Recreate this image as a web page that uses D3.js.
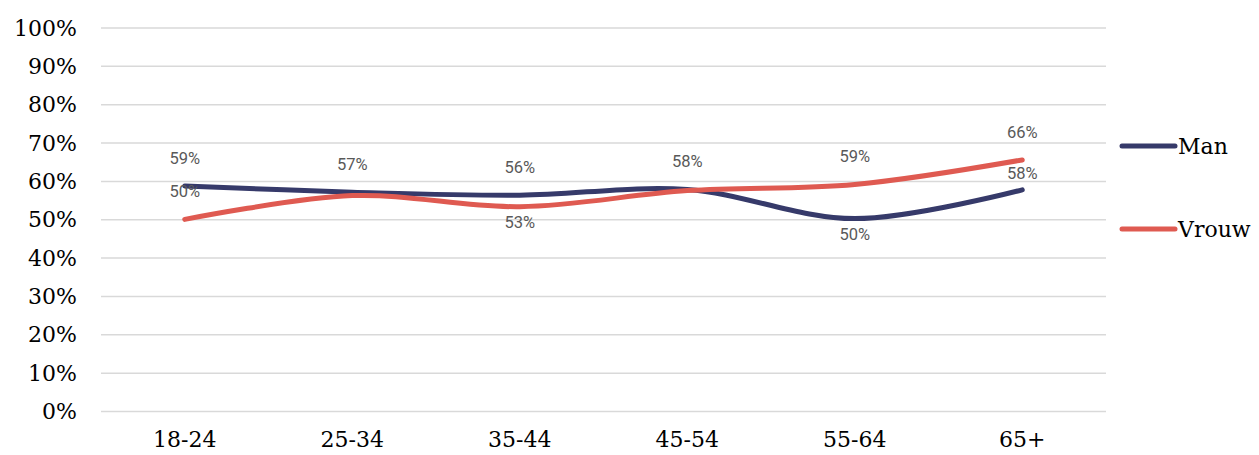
<!DOCTYPE html>
<html>
<head>
<meta charset="utf-8">
<script src="https://cdn.jsdelivr.net/npm/d3@7"></script>
<style>
  body { margin: 0; background: #fff; overflow: hidden; }
  svg { display: block; }
  .axis text { font-family: "DejaVu Serif", serif; font-size: 22px; fill: #000; }
  .lbl { font-family: Roboto, "Noto Sans", sans-serif; font-size: 16.5px; fill: #595959; }
  .legend text { font-family: "DejaVu Serif", serif; font-size: 22px; fill: #000; }
</style>
</head>
<body>
<svg id="chart"></svg>
<script>
var categories = ["18-24", "25-34", "35-44", "45-54", "55-64", "65+"];
var man = [58.8, 57.2, 56.4, 57.9, 50.3, 57.8];
var vrouw = [50.1, 56.3, 53.4, 57.6, 59.2, 65.6];
var yTicks = [0, 10, 20, 30, 40, 50, 60, 70, 80, 90, 100];

// where each data label sits (null = hidden, like in the original)
var manLabels = ["above", "above", "above", "above", "below", "near"];
var vrouwLabels = ["above", null, "below", null, "above", "above"];

var width = 1259,
    height = 455,
    margin = {top: 28, bottom: 43.5, left: 101, right: 153};

var svg = d3.select("#chart")
    .attr("width", width)
    .attr("height", height);

var innerWidth = width - margin.left - margin.right;
var innerHeight = height - margin.top - margin.bottom;

var g = svg.append("g")
    .attr("transform", "translate(" + margin.left + "," + margin.top + ")");

var xScale = d3.scaleBand()
    .domain(categories)
    .range([0, innerWidth]);

var yScale = d3.scaleLinear()
    .domain([0, 100])
    .range([innerHeight, 0]);

function px(d, i) { return xScale(categories[i]) + xScale.bandwidth() / 2; }

// gridlines
g.selectAll(".grid")
    .data(yTicks)
    .enter().append("line")
    .attr("class", "grid")
    .attr("x1", 0)
    .attr("x2", innerWidth)
    .attr("y1", function (d) { return yScale(d); })
    .attr("y2", function (d) { return yScale(d); })
    .attr("stroke", "#d9d9d9")
    .attr("stroke-width", 1.5);

var yAxis = d3.axisLeft(yScale)
    .tickValues(yTicks)
    .tickSize(0)
    .tickPadding(24)
    .tickFormat(function (d) { return d + "%"; });

var yAxisG = g.append("g")
    .attr("class", "axis")
    .call(yAxis);
yAxisG.select(".domain").remove();

var xAxis = d3.axisBottom(xScale)
    .tickSize(0)
    .tickPadding(20);

var xAxisG = g.append("g")
    .attr("class", "axis")
    .attr("transform", "translate(0," + innerHeight + ")")
    .call(xAxis);
xAxisG.select(".domain").remove();

var line = d3.line()
    .x(px)
    .y(function (d) { return yScale(d); })
    .curve(d3.curveCatmullRom.alpha(0));

var series = [
    {name: "Man", values: man, labels: manLabels, color: "#363a6a"},
    {name: "Vrouw", values: vrouw, labels: vrouwLabels, color: "#df5a51"}
];

series.forEach(function (s) {
    g.append("path")
        .datum(s.values)
        .attr("fill", "none")
        .attr("stroke", s.color)
        .attr("stroke-width", 5)
        .attr("stroke-linecap", "round")
        .attr("d", line);
});

var offsets = {above: -28, near: -17, below: 16};
series.forEach(function (s) {
    g.selectAll(null)
        .data(s.values)
        .enter()
        .filter(function (d, i) { return s.labels[i]; })
        .append("text")
        .attr("class", "lbl")
        .attr("text-anchor", "middle")
        .attr("dy", "0.35em")
        .attr("x", function (d) { return px(d, s.values.indexOf(d)); })
        .attr("y", function (d) {
            var i = s.values.indexOf(d);
            return yScale(d) + offsets[s.labels[i]];
        })
        .text(function (d) { return Math.round(d) + "%"; });
});

// legend
var legend = svg.append("g").attr("class", "legend");
var legendY = [146, 229];
series.forEach(function (s, i) {
    legend.append("line")
        .attr("x1", 1122).attr("x2", 1175)
        .attr("y1", legendY[i]).attr("y2", legendY[i])
        .attr("stroke", s.color)
        .attr("stroke-width", 5)
        .attr("stroke-linecap", "round");
    legend.append("text")
        .attr("x", 1178)
        .attr("y", legendY[i])
        .attr("dy", "0.35em")
        .text(s.name);
});
</script>
</body>
</html>
